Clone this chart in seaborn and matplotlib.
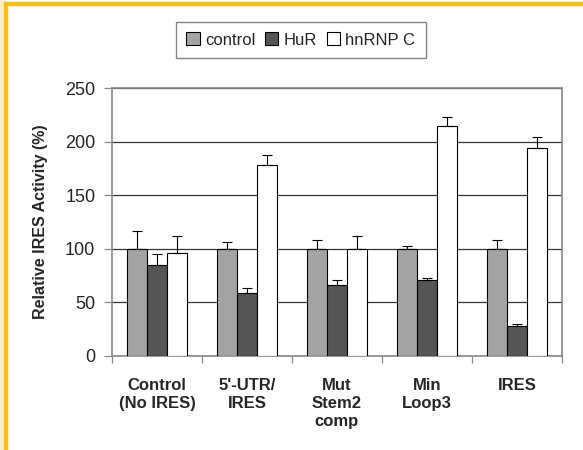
import pandas as pd
import numpy as np
import matplotlib.pyplot as plt
import seaborn as sns
from matplotlib.patches import Rectangle

sns.set_theme(style="white")
plt.rcParams['font.family'] = ['Liberation Sans', 'DejaVu Sans']

# dados
constructos = ['Control\n(No IRES)', "5'-UTR/\nIRES", 'Mut\nStem2\ncomp', 'Min\nLoop3', 'IRES']
tratamentos = ['control', 'HuR', 'hnRNP C']
atividade_control = [100, 100, 100, 100, 100]
atividade_hur = [85, 59, 66, 71, 28]
atividade_hnrnp = [96, 178, 100, 215, 194]
erro_control = [17, 6, 8, 3, 8]
erro_hur = [10, 4, 5, 2, 2]
erro_hnrnp = [16, 10, 12, 8, 10]
cores = ['#a3a3a3', '#555555', '#ffffff']

df = pd.DataFrame({
    'constructo': constructos * 3,
    'tratamento': np.repeat(tratamentos, len(constructos)),
    'atividade': atividade_control + atividade_hur + atividade_hnrnp,
})
erros = [erro_control, erro_hur, erro_hnrnp]

fig = plt.figure(figsize=(5.83, 4.5), dpi=100)
ax = fig.add_axes([0.192, 0.209, 0.772, 0.595])

sns.barplot(data=df, x='constructo', y='atividade', hue='tratamento',
            palette=cores, edgecolor='black', linewidth=0.8, width=0.665,
            errorbar=None, ax=ax, zorder=3)

# barras de erro só para cima
for cont, err in zip(ax.containers, erros):
    xs = [b.get_x() + b.get_width() / 2 for b in cont]
    hs = [b.get_height() for b in cont]
    ax.errorbar(xs, hs, yerr=[np.zeros(len(err)), err], fmt='none',
                ecolor='black', elinewidth=0.8, capsize=3.5, capthick=0.8, zorder=4)

ax.set_ylim(0, 250)
ax.set_xlim(-0.5, 4.5)
ax.set_yticks(range(0, 251, 50))
ax.yaxis.grid(True, color='#333333', linewidth=0.9, zorder=0)
ax.set_axisbelow(True)

# ticks nas divisões entre grupos, rótulos no centro
ax.set_xticks(np.arange(-0.5, 5, 1))
ax.set_xticklabels([])
ax.set_xticks(range(5), minor=True)
ax.set_xticklabels(constructos, minor=True, fontweight='bold', fontsize=12, linespacing=1.25)
ax.tick_params(axis='x', which='major', direction='out', length=5, width=0.9, color='#888888', bottom=True)
ax.tick_params(axis='x', which='minor', length=0, pad=16)
ax.tick_params(axis='y', direction='out', length=6, width=0.9, color='#888888', left=True,
               labelsize=13, pad=6)
for sp in ax.spines.values():
    sp.set_color('#888888')
    sp.set_linewidth(1.2)

ax.set_xlabel('')
ax.set_ylabel('Relative IRES Activity (%)', fontweight='bold', fontsize=11.5, labelpad=12)

ax.legend(loc='center', bbox_to_anchor=(0.516, 0.911), bbox_transform=fig.transFigure,
          ncol=3, fontsize=12, frameon=True, fancybox=False, edgecolor='#666666',
          handlelength=0.8, handleheight=0.8, handletextpad=0.3, columnspacing=0.6,
          borderpad=0.65)
ax.get_legend().get_frame().set_linewidth(1.0)

# moldura amarela da figura
fig.patches.append(Rectangle((0, 0), 4 / 583, 1, transform=fig.transFigure, color='#fdeecb', zorder=0))
fig.patches.append(Rectangle((4 / 583, 0), 3 / 583, 1 - 2 / 450, transform=fig.transFigure, color='#f5c116', zorder=1))
fig.patches.append(Rectangle((4 / 583, 1 - 5 / 450), 1, 3 / 450, transform=fig.transFigure, color='#f5c116', zorder=1))

fig.savefig('out.png', dpi=100)
